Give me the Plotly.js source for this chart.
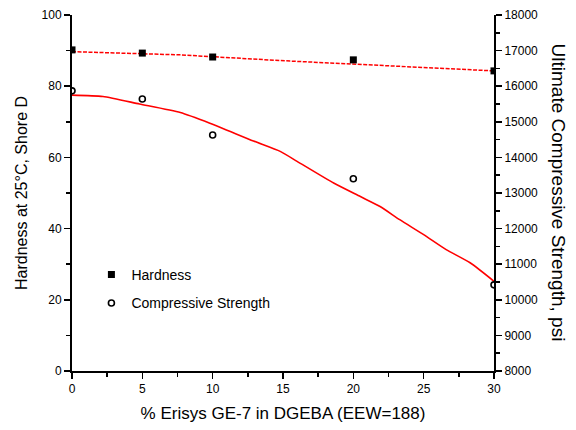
<!DOCTYPE html>
<html><head><meta charset="utf-8">
<script src="https://cdn.plot.ly/plotly-3.0.1.min.js"></script>
<style>html,body{margin:0;padding:0;background:#fff}#c{width:576px;height:430px}</style>
</head><body><div id="c"></div>
<script>
const xPts = [0, 5, 10, 20, 30];
const hardness = [90.2, 89.3, 88.2, 87.4, 84.3];
const compStrength = [15870, 15640, 14630, 13400, 10420];
const hardFitX = [0, 7.7, 14.8, 21.9, 30];
const hardFitY = [89.7, 88.8, 87.2, 85.8, 84.3];
const compFitX = [0, 2.2, 4.8, 7.7, 9.8, 12.9, 14.8, 16, 18.6, 20.5, 21.9, 23.3, 25, 26.6, 28.3, 30];
const compFitY = [15750, 15710, 15500, 15260, 14960, 14460, 14170, 13890, 13280, 12900, 12620, 12250, 11830, 11410, 11040, 10520];
const xTicks = [0, 5, 10, 15, 20, 25, 30];
const yTicks = [0, 20, 40, 60, 80, 100];
const y2Ticks = [8000, 9000, 10000, 11000, 12000, 13000, 14000, 15000, 16000, 17000, 18000];
const y2Labels = ['8000', '9000', '10000', '11000', '12000', '13000', '14000', '15000', '16000', '17000', '18000'];

const FT = "'Liberation Sans', Arial, sans-serif";

const traces = [
  {x: hardFitX, y: hardFitY, mode: 'lines', line: {color: '#ff0000', width: 1.5, dash: '4px,1.5px'}, showlegend: false, hoverinfo: 'skip'},
  {x: compFitX, y: compFitY, yaxis: 'y2', mode: 'lines', line: {color: '#ff0000', width: 1.6, shape: 'spline', smoothing: 0.6}, showlegend: false, hoverinfo: 'skip'},
  {x: xPts, y: hardness, name: 'Hardness', mode: 'markers', marker: {symbol: 'square', size: 7, color: '#000'}, legend: 'legend'},
  {x: xPts, y: compStrength, yaxis: 'y2', name: 'Compressive Strength', mode: 'markers', marker: {symbol: 'circle-open', size: 6, color: '#000', line: {width: 1.6, color: '#000'}}, legend: 'legend2'}
];

const tickFont = {family: FT, size: 12, color: '#000'};
const layout = {
  width: 576, height: 430,
  margin: {l: 72, r: 82, t: 15, b: 59},
  paper_bgcolor: '#fff', plot_bgcolor: '#fff',
  xaxis: {
    range: [0, 30], tickvals: xTicks, ticks: 'outside', ticklen: 6, tickwidth: 1.5, tickcolor: '#000',
    showline: true, linecolor: '#000', linewidth: 2, showgrid: false, zeroline: false,
    minor: {dtick: 2.5, tick0: 0, ticks: 'outside', ticklen: 4, tickwidth: 1.5, tickcolor: '#000', showgrid: false},
    tickfont: tickFont,
    title: {text: '% Erisys GE-7 in DGEBA (EEW=188)', font: {family: FT, size: 17, color: '#000'}, standoff: 12}
  },
  yaxis: {
    range: [0, 100], tickvals: yTicks, ticks: 'outside', ticklen: 6, tickwidth: 1.5, tickcolor: '#000',
    showline: true, linecolor: '#000', linewidth: 2, showgrid: false, zeroline: false,
    minor: {dtick: 10, tick0: 0, ticks: 'outside', ticklen: 4, tickwidth: 1.5, tickcolor: '#000', showgrid: false},
    tickfont: tickFont,
    title: {text: 'Hardness at 25°C, Shore D', font: {family: FT, size: 16, color: '#000'}, standoff: 10}
  },
  yaxis2: {
    overlaying: 'y', side: 'right',
    range: [8000, 18000], tickvals: y2Ticks, ticktext: y2Labels, ticks: 'outside', ticklen: 6, tickwidth: 1.5, tickcolor: '#000',
    showline: true, linecolor: '#000', linewidth: 2, showgrid: false, zeroline: false,
    minor: {dtick: 500, tick0: 8000, ticks: 'outside', ticklen: 4, tickwidth: 1.5, tickcolor: '#000', showgrid: false},
    tickfont: tickFont
  },
  legend: {x: 0.046, y: 0.27, xanchor: 'left', yanchor: 'middle', bgcolor: 'rgba(0,0,0,0)', font: {family: FT, size: 14, color: '#000'}},
  legend2: {x: 0.046, y: 0.19, xanchor: 'left', yanchor: 'middle', bgcolor: 'rgba(0,0,0,0)', font: {family: FT, size: 14, color: '#000'}},
  annotations: [{
    text: 'Ultimate Compressive Strength, psi', textangle: 90,
    xref: 'paper', yref: 'paper', x: 1.155, y: 0.5, xanchor: 'center', yanchor: 'middle', showarrow: false,
    font: {family: FT, size: 19, color: '#000'}
  }]
};
Plotly.newPlot('c', traces, layout, {displayModeBar: false, staticPlot: true});
</script></body></html>
